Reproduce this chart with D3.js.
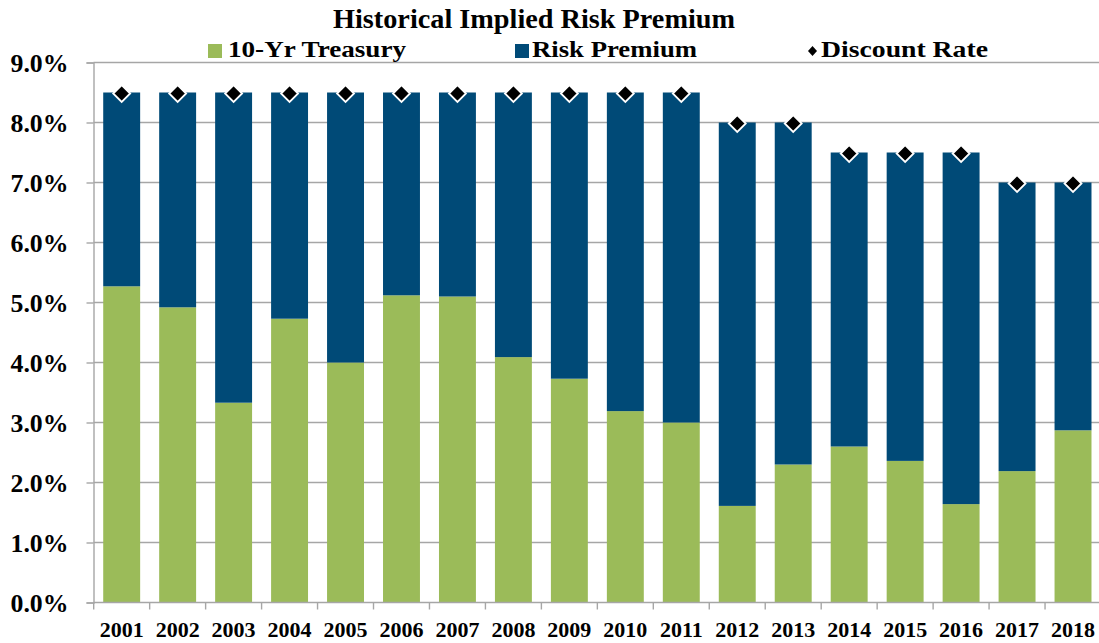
<!DOCTYPE html>
<html>
<head>
<meta charset="utf-8">
<script src="https://cdn.jsdelivr.net/npm/d3@7"></script>
<style>
  body { margin: 0; background: #fff; }
  text { font-family: "Liberation Serif", "Times New Roman", serif; font-weight: bold; fill: #000; }
</style>
</head>
<body>
<div id="chart"></div>
<script>
// values (percent)
var years = ["2001", "2002", "2003", "2004", "2005", "2006", "2007", "2008", "2009",
             "2010", "2011", "2012", "2013", "2014", "2015", "2016", "2017", "2018"];
var treasury = [5.27, 4.92, 3.33, 4.73, 4.00, 5.12, 5.10, 4.09, 3.73,
                3.19, 3.00, 1.61, 2.30, 2.60, 2.36, 1.64, 2.19, 2.87];
var discountRate = [8.5, 8.5, 8.5, 8.5, 8.5, 8.5, 8.5, 8.5, 8.5,
                    8.5, 8.5, 8.0, 8.0, 7.5, 7.5, 7.5, 7.0, 7.0];
var yTicks = [0, 1, 2, 3, 4, 5, 6, 7, 8, 9];
var seriesNames = ["10-Yr Treasury", "Risk Premium", "Discount Rate"];

var green = "#9bbb59", blue = "#004a77", gridColor = "#a6a6a6";

var width = 1099, height = 643;

var svg = d3.select("#chart").append("svg")
    .attr("width", width)
    .attr("height", height);

var x = d3.scaleBand()
    .domain(years)
    .range([93.7, 1101])
    .paddingInner(0.34)
    .paddingOuter(0.17);

var y = d3.scaleLinear()
    .domain([0, 9])
    .range([602.5, 62.5]);

// rows for the stack
var rows = years.map(function (d, i) {
    return { year: d, treasury: treasury[i], premium: discountRate[i] - treasury[i], rate: discountRate[i] };
});
var stacked = d3.stack().keys(["treasury", "premium"])(rows);

// gridlines
svg.append("g").selectAll("line")
    .data(yTicks.slice(1))
    .enter().append("line")
    .attr("x1", 93.5).attr("x2", width)
    .attr("y1", d => y(d)).attr("y2", d => y(d))
    .attr("stroke", gridColor)
    .attr("stroke-width", 1.4);

// bars
svg.append("g").selectAll("g")
    .data(stacked)
    .enter().append("g")
    .attr("fill", (d, i) => i === 0 ? green : blue)
    .selectAll("rect")
    .data(d => d)
    .enter().append("rect")
    .attr("x", d => x(d.data.year))
    .attr("width", x.bandwidth())
    .attr("y", d => y(d[1]))
    .attr("height", d => y(d[0]) - y(d[1]));

// y axis
var yAxis = svg.append("g")
    .attr("transform", "translate(93.5,0)")
    .call(d3.axisLeft(y)
        .tickValues(yTicks)
        .tickSize(7)
        .tickPadding(18)
        .tickFormat(d => d3.format(".1f")(d) + "%"));
yAxis.select(".domain").attr("stroke", gridColor).attr("stroke-width", 1.4);
yAxis.selectAll(".tick line").attr("stroke", gridColor).attr("stroke-width", 1.4);
yAxis.selectAll(".tick text")
    .style("font-size", "25px")
    .attr("textLength", 58)
    .attr("lengthAdjust", "spacingAndGlyphs")
    .attr("dy", "0.34em");

// x axis
svg.append("line")
    .attr("x1", 93.5).attr("x2", width)
    .attr("y1", y(0)).attr("y2", y(0))
    .attr("stroke", gridColor)
    .attr("stroke-width", 1.4);

var bounds = d3.range(years.length + 1).map(i => x.range()[0] + i * x.step());
svg.append("g").selectAll("line")
    .data(bounds)
    .enter().append("line")
    .attr("x1", d => d).attr("x2", d => d)
    .attr("y1", y(0)).attr("y2", y(0) + 7)
    .attr("stroke", gridColor)
    .attr("stroke-width", 1.4);

svg.append("g").selectAll("text")
    .data(years)
    .enter().append("text")
    .attr("x", d => x(d) + x.bandwidth() / 2)
    .attr("y", 637)
    .attr("text-anchor", "middle")
    .style("font-size", "22px")
    .text(d => d);

// discount rate diamonds
var diamond = "M0,-8.5L8.5,0L0,8.5L-8.5,0Z";
svg.append("g").selectAll("path")
    .data(rows)
    .enter().append("path")
    .attr("d", diamond)
    .attr("transform", d => "translate(" + (x(d.year) + x.bandwidth() / 2) + "," + (y(d.rate) + 1) + ")")
    .attr("fill", "#000")
    .attr("stroke", "#fff")
    .attr("stroke-width", 1.8);

// title
svg.append("text")
    .attr("x", 534)
    .attr("y", 28)
    .attr("text-anchor", "middle")
    .attr("textLength", 402)
    .attr("lengthAdjust", "spacingAndGlyphs")
    .style("font-size", "28px")
    .text("Historical Implied Risk Premium");

// legend
var legendItems = [
    { name: seriesNames[0], sx: 208, tx: 228, tw: 178, color: green, kind: "square" },
    { name: seriesNames[1], sx: 515, tx: 532, tw: 165, color: blue, kind: "square" },
    { name: seriesNames[2], sx: 812.5, tx: 821, tw: 167, color: "#000", kind: "diamond" }
];
var legend = svg.append("g").selectAll("g")
    .data(legendItems)
    .enter().append("g");

legend.filter(d => d.kind === "square").append("rect")
    .attr("x", d => d.sx)
    .attr("y", 44)
    .attr("width", 14)
    .attr("height", 14)
    .attr("fill", d => d.color);

legend.filter(d => d.kind === "diamond").append("path")
    .attr("d", "M0,-5L4.5,0L0,5L-4.5,0Z")
    .attr("transform", d => "translate(" + d.sx + ",51)")
    .attr("fill", "#000");

legend.append("text")
    .attr("x", d => d.tx)
    .attr("y", 57)
    .attr("textLength", d => d.tw)
    .attr("lengthAdjust", "spacingAndGlyphs")
    .style("font-size", "24px")
    .text(d => d.name);
</script>
</body>
</html>
